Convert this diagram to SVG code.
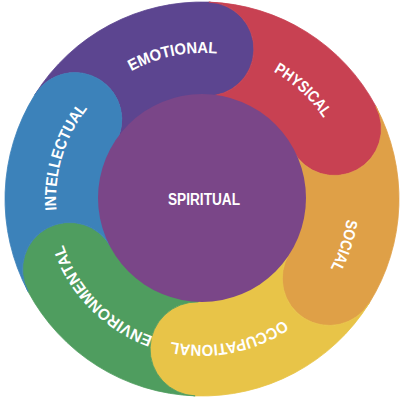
<svg xmlns="http://www.w3.org/2000/svg" xmlns:xlink="http://www.w3.org/1999/xlink" width="400" height="406" viewBox="0 0 400 406">
<defs>
<path id="ring" d="M348,199 A146,146 0 1,1 56,199 A146,146 0 1,1 348,199"/>
</defs>
<style>
.seg{stroke-width:0.8;stroke-linejoin:round}
.lbl{font-family:"Liberation Sans","Arial",sans-serif;font-weight:bold;font-size:16px;fill:#fff;text-anchor:middle}
</style>
<rect width="400" height="406" fill="#fff"/>
<g id="emotional">
<path class="seg" fill="#5c4590" stroke="#5c4590" d="M34.93,94.61 A197,197 0 0,1 208.88,2.12 A47,47 0 0,1 205.59,96.06 L205.14,109.05 A90,90 0 0,0 125.68,151.31 L114.65,144.42 A47,47 0 0,0 34.93,94.61 Z"/>
<text class="lbl"><textPath xlink:href="#ring" href="#ring" startOffset="71.8%" textLength="89" lengthAdjust="spacingAndGlyphs">EMOTIONAL</textPath></text>
</g>
<g id="physical">
<path class="seg" fill="#c84152" stroke="#c84152" d="M208.88,2.12 A197,197 0 0,1 375.94,106.51 A47,47 0 0,1 292.94,150.64 L281.47,156.75 A90,90 0 0,0 205.14,109.05 L205.59,96.06 A47,47 0 0,0 208.88,2.12 Z"/>
<text class="lbl"><textPath xlink:href="#ring" href="#ring" startOffset="86.9%" textLength="69" lengthAdjust="spacingAndGlyphs">PHYSICAL</textPath></text>
</g>
<g id="social">
<path class="seg" fill="#dfa047" stroke="#dfa047" d="M375.94,106.51 A197,197 0 0,1 369.07,303.39 A47,47 0 0,1 289.35,253.58 L278.32,246.69 A90,90 0 0,0 281.47,156.75 L292.94,150.64 A47,47 0 0,0 375.94,106.51 Z"/>
<text class="lbl"><textPath xlink:href="#ring" href="#ring" startOffset="5.06%" textLength="52" lengthAdjust="spacingAndGlyphs">SOCIAL</textPath></text>
</g>
<g id="occupational">
<path class="seg" fill="#e8c448" stroke="#e8c448" d="M369.07,303.39 A197,197 0 0,1 195.12,395.88 A47,47 0 0,1 198.41,301.94 L198.86,288.95 A90,90 0 0,0 278.32,246.69 L289.35,253.58 A47,47 0 0,0 369.07,303.39 Z"/>
<text class="lbl"><textPath xlink:href="#ring" href="#ring" startOffset="21.97%" textLength="118" lengthAdjust="spacingAndGlyphs">OCCUPATIONAL</textPath></text>
</g>
<g id="environmental">
<path class="seg" fill="#4f9d5f" stroke="#4f9d5f" d="M195.12,395.88 A197,197 0 0,1 28.06,291.49 A47,47 0 0,1 111.06,247.36 L122.53,241.25 A90,90 0 0,0 198.86,288.95 L198.41,301.94 A47,47 0 0,0 195.12,395.88 Z"/>
<text class="lbl"><textPath xlink:href="#ring" href="#ring" startOffset="37.69%" textLength="133" lengthAdjust="spacingAndGlyphs">ENVIRONMENTAL</textPath></text>
</g>
<g id="intellectual">
<path class="seg" fill="#3c82ba" stroke="#3c82ba" d="M28.06,291.49 A197,197 0 0,1 34.93,94.61 A47,47 0 0,1 114.65,144.42 L125.68,151.31 A90,90 0 0,0 122.53,241.25 L111.06,247.36 A47,47 0 0,0 28.06,291.49 Z"/>
<text class="lbl"><textPath xlink:href="#ring" href="#ring" startOffset="54.72%" textLength="109" lengthAdjust="spacingAndGlyphs">INTELLECTUAL</textPath></text>
</g>
<g id="spiritual">
<circle cx="202" cy="198" r="104" fill="#7a4688"/>
<text x="204" y="205" font-family="Liberation Sans, Arial, sans-serif" font-weight="bold" font-size="16" fill="#fff" text-anchor="middle" textLength="72" lengthAdjust="spacingAndGlyphs">SPIRITUAL</text>
</g>
</svg>
